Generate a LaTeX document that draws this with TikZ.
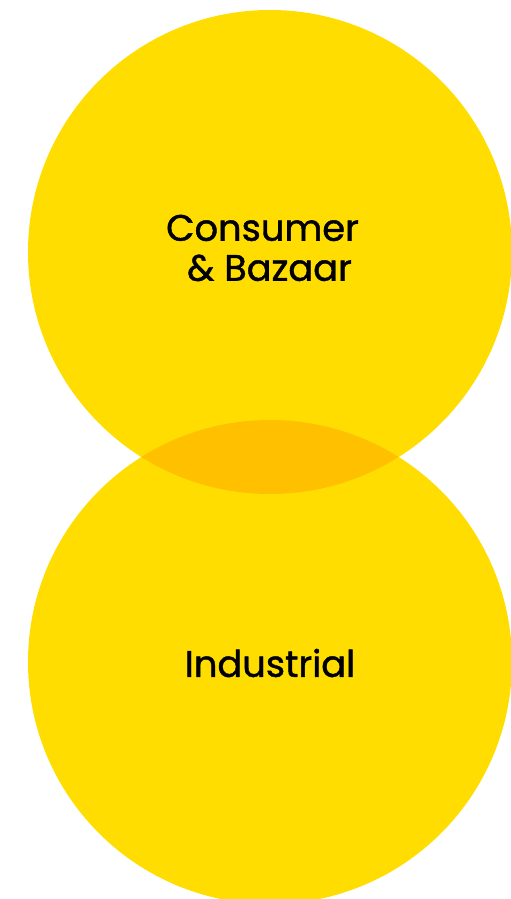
\documentclass[tikz,border=0pt]{standalone}
\usepackage{fontspec}
\setmainfont{Poppins}[FakeBold=1.2]
\usetikzlibrary{positioning}
\definecolor{venyellow}{HTML}{FFDD00}
\definecolor{venoverlap}{HTML}{FFC000}

\begin{document}
\begin{tikzpicture}[x=1pt, y=-1pt,
    venn/.style={circle, fill=venyellow, minimum size=484pt, inner sep=0pt},
    label/.style={align=center, text=black, font=\fontsize{36.8}{40}\selectfont}]

    \useasboundingbox (0,0) rectangle (511,899);

    % the two sets
    \node[venn] (consumer) at (270,252) {};
    \node[venn] (industrial) at (270,662) {};

    % overlap
    \begin{scope}
        \clip (consumer.center) circle (242pt);
        \fill[venoverlap] (industrial.center) circle (242pt);
    \end{scope}

    % set names
    \node[label] (consumerText) at (266,248) {Consumer\hspace*{7pt}\\\hspace*{7pt}\& Bazaar};
    \node[label] (industrialText) at (270,663) {Industrial};

\end{tikzpicture}
\end{document}
